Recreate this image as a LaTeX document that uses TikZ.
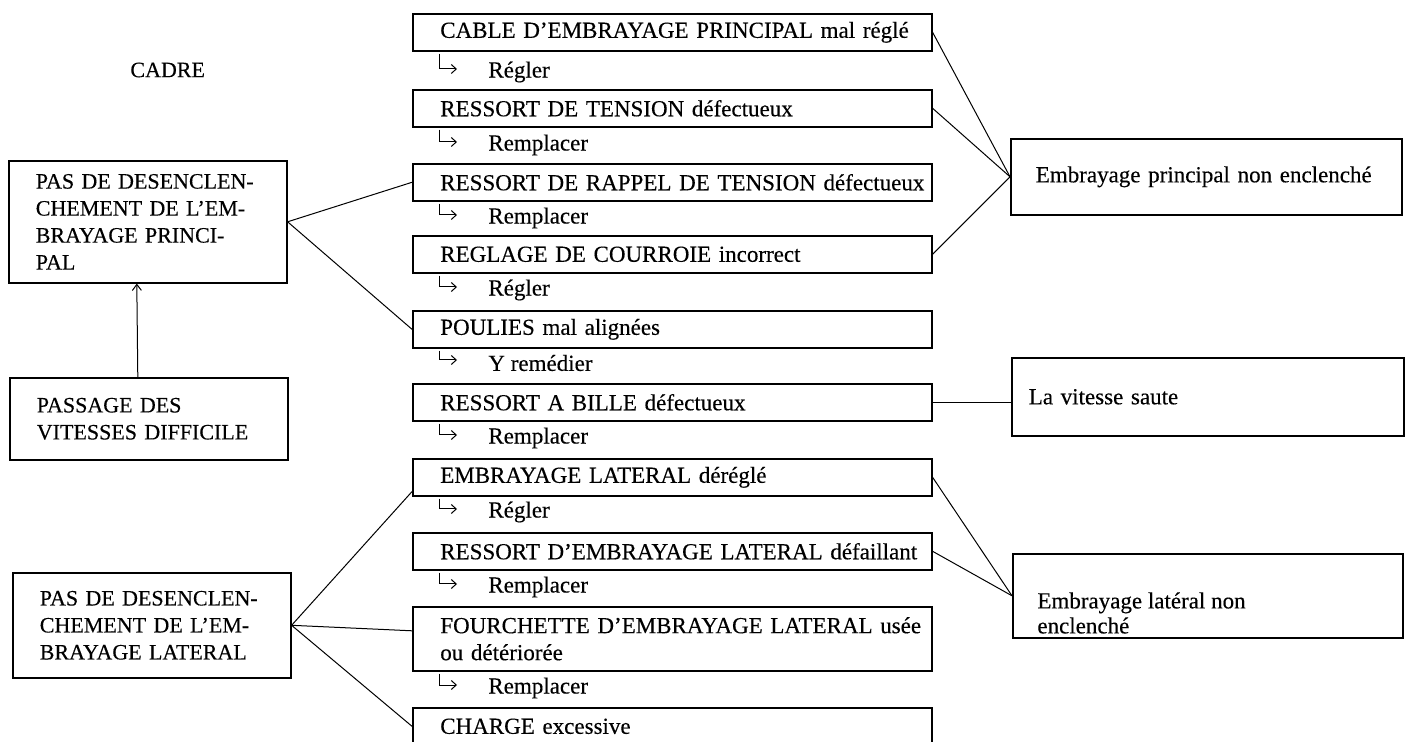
\documentclass[tikz,border=0pt]{standalone}
\usepackage{fontspec}
\setmainfont{Liberation Serif}[FakeBold=0.3]
\usetikzlibrary{arrows.meta}
\begin{document}
\begin{tikzpicture}[x=0.5pt,y=-0.5pt,
  every node/.style={font=\fontsize{11.5}{13.5}\selectfont},
  box/.style={draw, line width=0.8pt, anchor=north west, inner ysep=0pt, align=left},
  midbox/.style={box, minimum width=259.5pt, text width=232pt, inner xsep=13.75pt, minimum height=18.5pt},
  leftbox/.style={box, minimum width=139pt, text width=112pt, inner xsep=13.5pt, font=\fontsize{11}{13.5}\selectfont},
  rightbox/.style={box, minimum width=195.5pt},
  act/.style={anchor=west, inner sep=0pt},
  actarrow/.style={line width=0.5pt, -{Straight Barb[length=2.5pt,width=4.5pt]}},
  conn/.style={line width=0.5pt},
]
\clip (0,0) rectangle (1408,742);

% left column
\node[anchor=west, inner sep=0pt, font=\fontsize{11}{13.5}\selectfont] (cadre) at (130,70) {CADRE};
\node[leftbox, minimum height=61pt] (p1) at (8,160)
  {\makebox[112pt][s]{PAS DE DESENCLEN-}\\\makebox[112pt][s]{CHEMENT DE L’EM-}\\BRAYAGE PRINCI-\\PAL};
\node[leftbox, minimum height=41pt] (pass) at (9,377) {PASSAGE DES\\VITESSES DIFFICILE};
\node[leftbox, minimum height=52.5pt] (lat) at (12,572)
  {\makebox[112pt][s]{PAS DE DESENCLEN-}\\\makebox[112pt][s]{CHEMENT DE L’EM-}\\\makebox[112pt][s]{BRAYAGE LATERAL}};

% middle column
\node[midbox] (b1) at (412,13) {\makebox[232pt][l]{CABLE D’EMBRAYAGE PRINCIPAL mal réglé}};
\node[midbox] (b2) at (412,89) {RESSORT DE TENSION défectueux};
\node[midbox] (b3) at (412,163) {\makebox[232pt][l]{RESSORT DE RAPPEL DE TENSION défectueux}};
\node[midbox] (b4) at (412,235) {REGLAGE DE COURROIE incorrect};
\node[midbox] (b5) at (412,310) {POULIES mal alignées};
\node[midbox] (b6) at (412,383) {RESSORT A BILLE défectueux};
\node[midbox] (b7) at (412,458) {EMBRAYAGE LATERAL déréglé};
\node[midbox] (b8) at (412,532) {\makebox[232pt][l]{RESSORT D’EMBRAYAGE LATERAL défaillant}};
\node[midbox, minimum height=32pt] (b9) at (412,606) {\makebox[232pt][l]{FOURCHETTE D’EMBRAYAGE LATERAL usée}\\ou détériorée};
\node[midbox] (b10) at (412,707) {CHARGE excessive};

\node[act] (a1) at (488,72) {Régler};
\node[act] (a2) at (488,145) {Remplacer};
\node[act] (a3) at (488,218) {Remplacer};
\node[act] (a4) at (488,290) {Régler};
\node[act] (a5) at (488,363) {Y remédier};
\node[act] (a6) at (488,438) {Remplacer};
\node[act] (a7) at (488,512) {Régler};
\node[act] (a8) at (488,587) {Remplacer};
\node[act] (a9) at (488,688) {Remplacer};

% right column
\node[rightbox, minimum height=38pt, text width=170.5pt, inner xsep=12.5pt] (emp) at (1010,138) {Embrayage principal non enclenché};
\node[rightbox, minimum height=39pt, text width=179pt, inner xsep=8.5pt] (vit) at (1011,357) {La vitesse saute};
\node[rightbox, minimum width=195pt, minimum height=42pt] (elat) at (1012,553) {};
\node[anchor=west, align=left, inner sep=0pt, font=\fontsize{11.5}{12.5}\selectfont] (elattxt) at (1037,613) {Embrayage latéral non\\enclenché};

% connectors
\draw[conn] (p1.east) -- (b3.west);
\draw[conn] (p1.east) -- (b5.west);
\draw[conn, -{Straight Barb[length=3pt,width=4.5pt]}] ([xshift=-5.5pt]pass.north) -- ([xshift=-5.5pt]p1.south);
\draw[conn] (lat.east) -- ([yshift=2.5pt]b7.south west);
\draw[conn] (lat.east) -- ([yshift=4pt]b9.west);
\draw[conn] (lat.east) -- (b10.west);
\foreach \b in {b1,b2,b4} \draw[conn] (\b.east) -- (emp.west);
\draw[conn] (b6.east) -- (b6.east -| vit.west);
\foreach \b in {b7,b8} \draw[conn] (\b.east) -- (elat.west);

\foreach \b/\a in {b1/a1,b2/a2,b3/a3,b4/a4,b5/a5,b6/a6,b7/a7,b8/a8,b9/a9}
  \draw[actarrow] ([xshift=13.5pt,yshift=-1pt]\b.south west) |- ([xshift=-15.5pt,yshift=1.5pt]\a.west);
\end{tikzpicture}
\end{document}
